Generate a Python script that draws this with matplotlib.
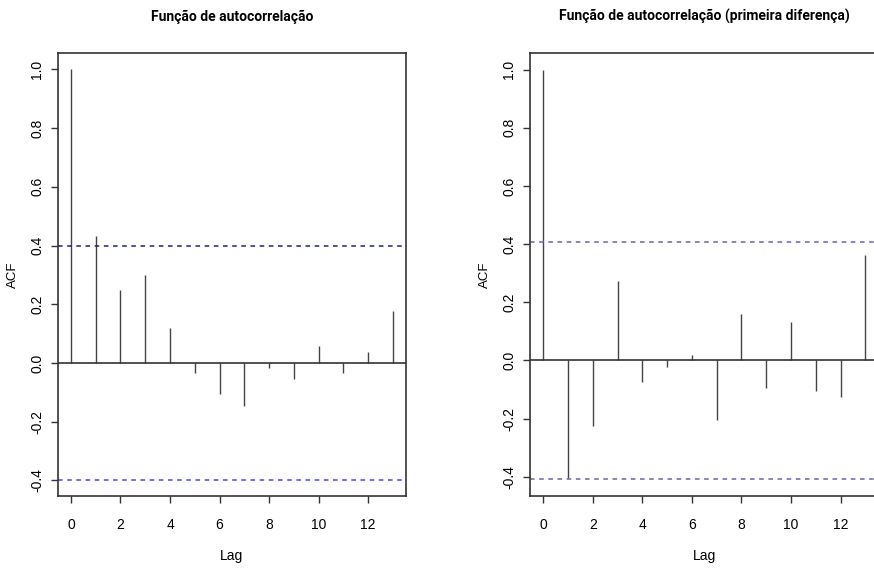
import numpy as np
import matplotlib.pyplot as plt

# ACF values
lags = np.arange(0, 14)
acf_nivel = [1.0, 0.432, 0.250, 0.299, 0.119, -0.034, -0.107, -0.148,
             -0.017, -0.053, 0.057, -0.034, 0.038, 0.177]
acf_dif = [1.0, -0.405, -0.225, 0.272, -0.074, -0.023, 0.018, -0.204,
           0.160, -0.094, 0.131, -0.105, -0.126, 0.364]
ic_nivel = 0.399
ic_dif = 0.408

titulos = ["Função de autocorrelação",
           "Função de autocorrelação (primeira diferença)"]

plt.rcParams['font.family'] = ['Liberation Sans', 'DejaVu Sans']

fig = plt.figure(figsize=(8.74, 5.68), dpi=100)
ax1 = fig.add_axes([0.0664, 0.1268, 0.398, 0.78])
ax2 = fig.add_axes([0.6068, 0.1268, 0.398, 0.78])

paineis = [
    (ax1, acf_nivel, ic_nivel, '#20207a', '#4444ff', (-0.453, 1.056)),
    (ax2, acf_dif, ic_dif, '#6464b4', '#6464b4', (-0.466, 1.057)),
]

for i, (ax, vals, ic, c_sup, c_inf, ylim) in enumerate(paineis):
    ax.vlines(lags, 0, vals, color='#444444', linewidth=1.0)
    ax.axhline(0, color='#333333', linewidth=1.2)
    ax.axhline(ic, color=c_sup, linestyle=(0, (3, 3)), linewidth=1.1)
    ax.axhline(-ic, color=c_inf, linestyle=(0, (3, 3)), linewidth=1.1)
    ax.set_xlim(-0.52, 13.52)
    ax.set_ylim(*ylim)
    ax.set_xticks(np.arange(0, 13, 2))
    ax.set_yticks([-0.4, -0.2, 0.0, 0.2, 0.4, 0.6, 0.8, 1.0])
    ax.set_yticklabels(['-0.4', '-0.2', '0.0', '0.2', '0.4', '0.6', '0.8', '1.0'],
                       rotation=90, va='center')
    ax.tick_params(direction='out', length=5, width=1, color='#333333',
                   labelsize=10)
    ax.tick_params(axis='x', pad=11)
    ax.tick_params(axis='y', pad=5)
    for s in ax.spines.values():
        s.set_color('#333333')
        s.set_linewidth(1.2)
    ax.set_xlabel('Lag', fontsize=10, labelpad=12)
    ax.set_ylabel('ACF', fontsize=9.5, labelpad=8)
    ax.set_title(titulos[i], fontsize=10, fontweight='bold', pad=23,
                 family=['Roboto', 'Liberation Sans', 'DejaVu Sans'])

fig.savefig('out.png', dpi=100)
